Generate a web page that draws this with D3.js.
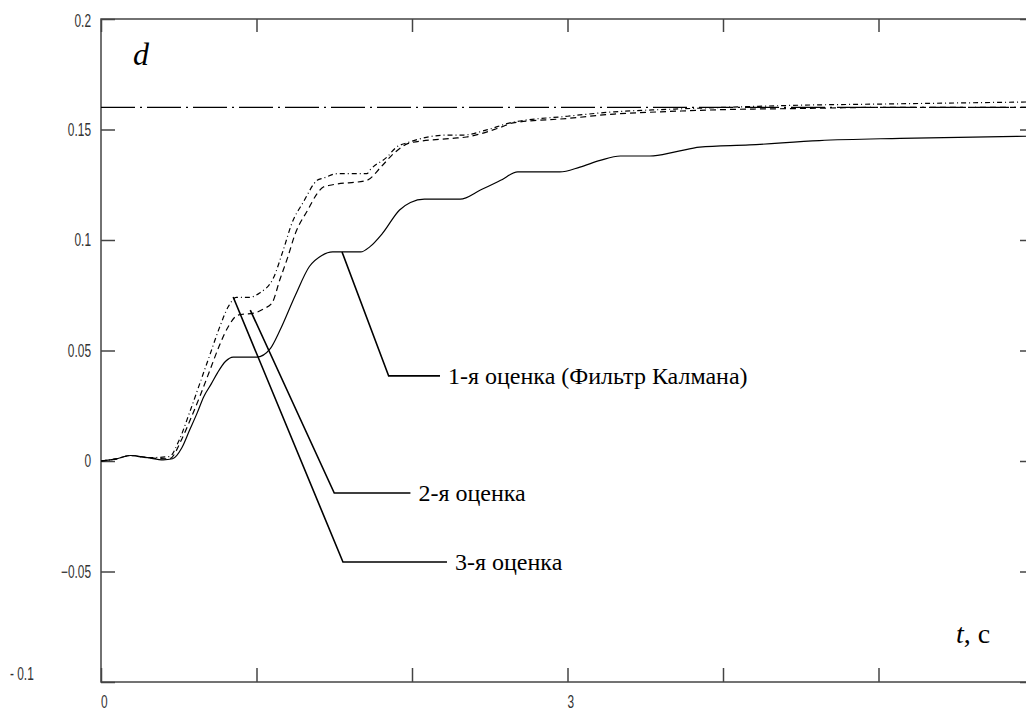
<!DOCTYPE html>
<html>
<head>
<meta charset="utf-8">
<script src="https://cdn.jsdelivr.net/npm/d3@7"></script>
<style>
  body { margin: 0; background: #fff; }
  svg { display: block; }
</style>
</head>
<body>
<div class="container"></div>
<script>
// values, t in seconds
var t1 = [0, 0.1, 0.19, 0.3, 0.4, 0.46, 0.52, 0.57, 0.62, 0.66, 0.71, 0.75, 0.8, 0.85, 1.0, 1.09, 1.15, 1.25, 1.34, 1.42, 1.49, 1.67, 1.73, 1.81, 1.92, 1.99, 2.08, 2.31, 2.44, 2.57, 2.68, 2.95, 3.08, 3.21, 3.34, 3.53, 3.7, 3.85, 4.17, 4.62, 5.14, 6.0];
var est1 = [0, 0.001, 0.0025, 0.0015, 0.0005, 0.001, 0.006, 0.014, 0.022, 0.029, 0.035, 0.040, 0.045, 0.047, 0.047, 0.051, 0.059, 0.075, 0.088, 0.093, 0.0946, 0.0946, 0.097, 0.103, 0.1136, 0.117, 0.1185, 0.1185, 0.1226, 0.127, 0.1308, 0.1308, 0.133, 0.136, 0.138, 0.138, 0.140, 0.142, 0.143, 0.145, 0.146, 0.147];

var t2 = [0, 0.1, 0.19, 0.3, 0.44, 0.52, 0.57, 0.64, 0.7, 0.76, 0.82, 0.88, 0.99, 1.05, 1.1, 1.15, 1.2, 1.25, 1.33, 1.39, 1.43, 1.49, 1.71, 1.8, 1.88, 1.99, 2.26, 2.35, 2.57, 2.65, 3.0, 3.3, 3.6, 4.0, 4.5, 5.0, 6.0];
var est2 = [0, 0.001, 0.0025, 0.0015, 0.001, 0.01, 0.018, 0.030, 0.041, 0.052, 0.061, 0.066, 0.067, 0.069, 0.0715, 0.082, 0.092, 0.103, 0.1136, 0.121, 0.124, 0.125, 0.127, 0.133, 0.139, 0.144, 0.146, 0.1466, 0.151, 0.153, 0.155, 0.157, 0.158, 0.159, 0.1595, 0.160, 0.160];

var t3 = [0, 0.1, 0.19, 0.3, 0.44, 0.5, 0.57, 0.64, 0.7, 0.76, 0.82, 0.87, 0.95, 1.02, 1.11, 1.17, 1.23, 1.3, 1.39, 1.43, 1.52, 1.71, 1.73, 1.84, 1.9, 1.97, 2.23, 2.33, 2.48, 2.63, 3.0, 3.3, 3.6, 4.0, 4.5, 5.0, 5.5, 6.0];
var est3 = [0, 0.001, 0.0025, 0.0015, 0.002, 0.009, 0.022, 0.036, 0.048, 0.060, 0.070, 0.074, 0.074, 0.076, 0.083, 0.095, 0.108, 0.117, 0.127, 0.128, 0.130, 0.130, 0.1317, 0.1376, 0.142, 0.144, 0.1475, 0.1475, 0.1498, 0.153, 0.156, 0.158, 0.159, 0.160, 0.161, 0.1615, 0.162, 0.1625];

var steadyValue = 0.16;

var yTicks = [0.2, 0.15, 0.1, 0.05, 0, -0.05, -0.1];
var yTickLabels = ["0.2", "0.15", "0.1", "0.05", "0", "\u22120.05", "- 0.1"];
var xTicks = [0, 1, 2, 3, 4, 5, 6];
var xTickLabels = ["0", "", "", "3", "", "", ""];

// annotation leaders: start point on a curve, elbow, end t of the shelf
var notes = [
  {text: "1-я оценка (Фильтр Калмана)", from: [1.55, 0.0946], elbow: [1.85, 0.0385], end: 2.18},
  {text: "2-я оценка", from: [0.96, 0.0683], elbow: [1.5, -0.0145], end: 1.99},
  {text: "3-я оценка", from: [0.85, 0.0742], elbow: [1.556, -0.0457], end: 2.225}
];

var W = 1026, H = 708;
var padL = 101, padT = 19, padR = 1034, padB = 682;
var tickFont = "'Liberation Sans', Arial, sans-serif";
var serif = "'Liberation Serif', 'Times New Roman', serif";

var svg = d3.select(".container").append("svg").attr("width", W).attr("height", H);

var x = d3.scaleLinear().domain([0, 6]).range([padL, padR]);
var y = d3.scaleLinear().domain([-0.1, 0.2]).range([padB, padT]);

function styleAxis(g) {
  g.select(".domain").remove();
  g.selectAll(".tick line").attr("stroke", "#444").attr("stroke-width", 1.5);
  g.selectAll(".tick text")
    .attr("fill", "#333")
    .style("font-family", tickFont)
    .style("font-size", "18px")
    .each(function() {
      // squeeze the digits, the original uses a narrow screen font
      var w = this.getComputedTextLength();
      if (w > 0) d3.select(this).attr("textLength", w * 0.66).attr("lengthAdjust", "spacingAndGlyphs");
    });
}

// axes with inward ticks
var yAxis = d3.axisLeft(y).tickValues(yTicks).tickSizeInner(-14).tickSizeOuter(0).tickPadding(10)
  .tickFormat(function(d, i) { return yTickLabels[i]; });
var gy = svg.append("g").attr("transform", "translate(" + padL + ",0)").call(yAxis);
styleAxis(gy);
gy.selectAll(".tick text").filter(function(d) { return d === -0.1; })
  .attr("text-anchor", "start").attr("x", -91).attr("dy", "-0.15em");
gy.selectAll(".tick text").filter(function(d) { return d === 0.2; })
  .attr("dy", "0.4em");

var yAxisR = d3.axisRight(y).tickValues(yTicks).tickSizeInner(-14).tickSizeOuter(0).tickFormat("");
var gyr = svg.append("g").attr("transform", "translate(" + padR + ",0)").call(yAxisR);
styleAxis(gyr);

var xAxis = d3.axisBottom(x).tickValues(xTicks).tickSizeInner(-14).tickSizeOuter(0).tickPadding(13)
  .tickFormat(function(d, i) { return xTickLabels[i]; });
var gx = svg.append("g").attr("transform", "translate(0," + padB + ")").call(xAxis);
styleAxis(gx);
gx.selectAll(".tick text").attr("dx", "0.15em");

var xAxisT = d3.axisTop(x).tickValues(xTicks).tickSizeInner(-13).tickSizeOuter(0).tickFormat("");
var gxt = svg.append("g").attr("transform", "translate(0," + padT + ")").call(xAxisT);
styleAxis(gxt);

svg.append("rect")
  .attr("x", padL).attr("y", padT)
  .attr("width", padR - padL).attr("height", padB - padT)
  .attr("fill", "none").attr("stroke", "#444").attr("stroke-width", 1.5);

// steady-state line
svg.append("line")
  .attr("x1", x(0)).attr("x2", x(6))
  .attr("y1", y(steadyValue)).attr("y2", y(steadyValue))
  .attr("stroke", "#000").attr("stroke-width", 1.2)
  .attr("stroke-dasharray", "34,5,2,5");

var line = d3.line()
  .x(function(d) { return x(d[0]); })
  .y(function(d) { return y(d[1]); })
  .curve(d3.curveMonotoneX);

function drawCurve(ts, vs, dash) {
  svg.append("path")
    .datum(d3.zip(ts, vs))
    .attr("d", line)
    .attr("fill", "none")
    .attr("stroke", "#000")
    .attr("stroke-width", 1.2)
    .attr("stroke-dasharray", dash);
}

drawCurve(t1, est1, null);
drawCurve(t2, est2, "6,4");
drawCurve(t3, est3, "5,3,1,3");

// leaders and labels
notes.forEach(function(n) {
  svg.append("polyline")
    .attr("points", [[x(n.from[0]), y(n.from[1])], [x(n.elbow[0]), y(n.elbow[1])], [x(n.end), y(n.elbow[1])]].join(" "))
    .attr("fill", "none").attr("stroke", "#000").attr("stroke-width", 1.6);
  svg.append("text")
    .attr("x", x(n.end) + 8).attr("y", y(n.elbow[1]))
    .attr("dy", "0.35em")
    .style("font-family", serif)
    .style("font-size", "24px")
    .text(n.text);
});

svg.append("text")
  .attr("x", 133).attr("y", 65)
  .style("font-family", serif)
  .style("font-size", "32px").style("font-style", "italic")
  .text("d");

var tl = svg.append("text")
  .attr("x", 956).attr("y", 643)
  .style("font-family", serif)
  .style("font-size", "28px");
tl.append("tspan").style("font-style", "italic").text("t");
tl.append("tspan").text(", с");
</script>
</body>
</html>
